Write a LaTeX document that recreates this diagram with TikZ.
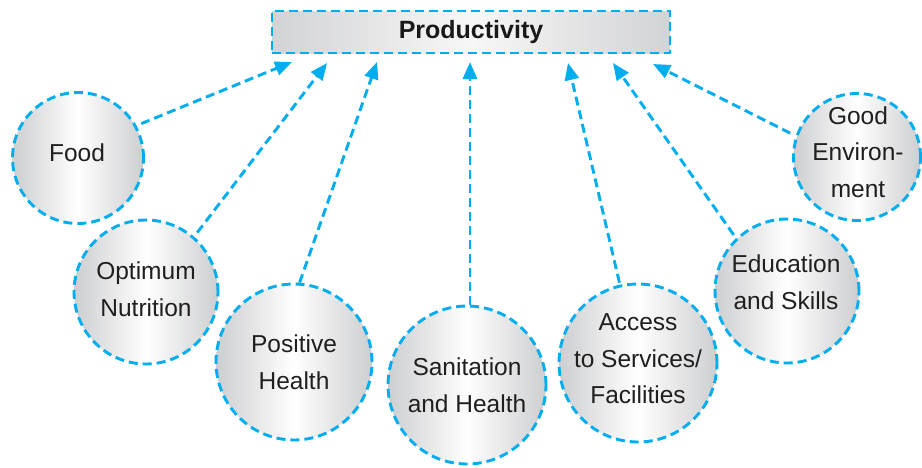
\documentclass[tikz,border=0pt]{standalone}
\usepackage{fontspec}
\setmainfont{Liberation Sans}
\usetikzlibrary{arrows.meta,calc}
\definecolor{cy}{HTML}{00AEEF}
\definecolor{edge}{HTML}{CDCED0}
\definecolor{bedge}{HTML}{D2D3D5}
\begin{document}
\begin{tikzpicture}[x=1pt,y=-1pt,
  bub/.style={circle,draw=cy,line width=2.9pt,dash pattern=on 9pt off 5pt,
    left color=edge,right color=edge,middle color=white,inner sep=0pt},
  txt/.style={font=\fontsize{24.5}{36.5}\selectfont,align=center,text=black!88,inner sep=0pt},
  box/.style={rectangle,draw=cy,line width=2.9pt,dash pattern=on 9pt off 5pt,
    left color=bedge,right color=bedge,middle color=black!3,inner sep=0pt},
  arr/.style={draw=cy,line width=2.9pt,dash pattern=on 9pt off 5pt,
    -{Triangle[length=17pt,width=14pt]}}]
\useasboundingbox (0,0) rectangle (922,467);

\node[box,minimum width=398pt,minimum height=42pt] (prod) at (471,32) {};
\node[txt,font=\fontsize{25}{30}\selectfont\bfseries,text=black!90] (prodt) at (471,32) {Productivity};

\node[bub,minimum size=131pt] (food) at (78,158) {};
\node[bub,minimum size=144pt] (opt) at (146,292) {};
\node[bub,minimum size=156pt] (pos) at (294,362) {};
\node[bub,minimum size=158pt] (san) at (467,385) {};
\node[bub,minimum size=158pt] (acc) at (638,363) {};
\node[bub,minimum size=144pt] (edu) at (787,291) {};
\node[bub,minimum size=127pt] (env) at (857,157) {};

\node[txt] (foodt) at (77,153) {Food};
\node[txt] (optt) at (146,289) {Optimum\\Nutrition};
\node[txt] (post) at (294,362) {Positive\\Health};
\node[txt] (sant) at (467,385) {Sanitation\\and Health};
\node[txt] (acct) at (638,359) {Access\\to Services/\\Facilities};
\node[txt] (edut) at (786,282) {Education\\and Skills};
\node[txt] (envt) at (858,152) {Good\\Environ-\\ment};

\coordinate (t1) at (292,62);
\coordinate (t2) at (327,63);
\coordinate (t3) at (377,62);
\coordinate (t4) at (470,62);
\coordinate (t5) at (568,63);
\coordinate (t6) at (613,63);
\coordinate (t7) at (653,64);

\draw[arr,shorten <=5pt] (food.29) -- (t1);
\draw[arr,shorten <=5pt] (opt.49) -- (t2);
\draw[arr] (pos.86) -- (t3);
\draw[arr] (san.north -| t4) -- (t4);
\draw[arr,shorten <=2pt] (acc.103) -- (t5);
\draw[arr,shorten <=4pt] (edu.134) -- (t6);
\draw[arr,shorten <=6pt] (env.161) -- (t7);
\end{tikzpicture}
\end{document}
